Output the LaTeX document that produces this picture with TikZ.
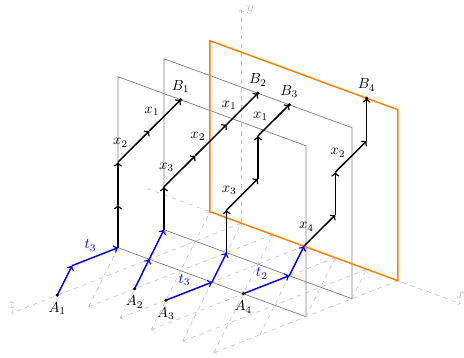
\documentclass[tikz,border=0pt]{standalone}
\begin{document}
\begin{tikzpicture}[
  x={(10.73pt,-3.94pt)}, y={(0pt,29.28pt)}, z={(-31.51pt,-12.33pt)},
  plane/.style={draw=gray, line width=0.5pt},
  oplane/.style={draw=orange, line width=1pt},
  gridline/.style={draw=gray!50, dashed, ->, line width=0.4pt},
  axisline/.style={draw=gray!50, dashed, ->, line width=0.4pt},
  axislab/.style={text=gray!50},
  bstep/.style={->, draw=blue, line width=1pt},
  kstep/.style={->, draw=black, line width=1pt},
  tlab/.style={above, xshift=-3pt, text=blue},
  xlab/.style={left, yshift=2.5pt},
  dot/.style={circle, fill=black, inner sep=0pt, minimum size=2.4pt}
]
\useasboundingbox (-165.29pt,-92.34pt) rectangle (152.55pt,152.89pt);

% planes
\draw[plane] (-2,0,2) -- (-2,4,2) -- (10,4,2) -- (10,0,2) -- cycle;
\draw[plane] (-2,0,1) -- (-2,4,1) -- (10,4,1) -- (10,0,1) -- cycle;

% ground grid
\foreach \i in {2,4,6,8,10} {
  \draw[gridline] (\i,0,0) -- (\i,0,4);
}
\draw[gridline] (10,0,1) -- (8,0,0);
\draw[gridline] (10,0,2) -- (6,0,0);
\draw[gridline] (10,0,3) -- (4,0,0);
\draw[gridline] (10,0,4) -- (2,0,0);
\draw[gridline] (8,0,4) -- (0,0,0);
\draw[gridline] (6,0,4) -- (-2,0,0);
\draw[gridline] (4,0,4) -- (-2,0,1);
\draw[gridline] (2,0,4) -- (-2,0,2);
\draw[gridline] (0,0,4) -- (-2,0,3);

% axes
\coordinate (O) at (0,0,0);
\coordinate (xs) at (-6,0,0);
\coordinate (xe) at (14,0,0);
\coordinate (ye) at (0,5,0);
\coordinate (ze) at (0,0,5);
\draw[axisline] (xs) -- (xe);
\draw[axisline] (O) -- (ye);
\draw[axisline] (O) -- (ze);
\node[axislab, above] (xl) at (xe) {$x$};
\node[axislab, right] (yl) at (ye) {$y$};
\node[axislab, above] (zl) at (ze) {$z$};

% orange plane
\draw[oplane] (-2,0,0) -- (-2,4,0) -- (10,4,0) -- (10,0,0) -- cycle;

% path points
\coordinate (A1) at (0,0,4);  \coordinate (p1a) at (-2,0,3); \coordinate (p1b) at (-2,0,2);
\coordinate (p1c) at (-2,1,2); \coordinate (p1d) at (-2,2,2); \coordinate (p1e) at (0,3,2);
\coordinate (B1) at (2,4,2);
\coordinate (A2) at (2,0,3);  \coordinate (p2a) at (0,0,2); \coordinate (p2b) at (-2,0,1);
\coordinate (p2c) at (-2,1,1); \coordinate (p2d) at (0,2,1); \coordinate (p2e) at (2,3,1);
\coordinate (B2) at (4,4,1);
\coordinate (A3) at (4,0,3);  \coordinate (p3a) at (4,0,2); \coordinate (p3b) at (2,0,1);
\coordinate (p3c) at (2,1,1); \coordinate (p3d) at (4,2,1); \coordinate (p3e) at (4,3,1);
\coordinate (B3) at (6,4,1);
\coordinate (A4) at (6,0,2);  \coordinate (p4a) at (6,0,1); \coordinate (p4b) at (4,0,0);
\coordinate (p4c) at (6,1,0); \coordinate (p4d) at (6,2,0); \coordinate (p4e) at (8,3,0);
\coordinate (B4) at (8,4,0);

% path 1
\draw[bstep] (A1) -- (p1a);
\draw[bstep] (p1a) -- node[tlab] (t1l) {$t_3$} (p1b);
\draw[kstep] (p1b) -- (p1c);
\draw[kstep] (p1c) -- (p1d);
\draw[kstep] (p1d) -- node[xlab] (x1a) {$x_2$} (p1e);
\draw[kstep] (p1e) -- node[xlab] (x1b) {$x_1$} (B1);

% path 2
\draw[bstep] (A2) -- (p2a);
\draw[bstep] (p2a) -- (p2b);
\draw[kstep] (p2b) -- (p2c);
\draw[kstep] (p2c) -- node[xlab] (x2a) {$x_3$} (p2d);
\draw[kstep] (p2d) -- node[xlab] (x2b) {$x_2$} (p2e);
\draw[kstep] (p2e) -- node[xlab] (x2c) {$x_1$} (B2);

% path 3
\draw[bstep] (A3) -- node[tlab] (t3l) {$t_3$} (p3a);
\draw[bstep] (p3a) -- (p3b);
\draw[kstep] (p3b) -- (p3c);
\draw[kstep] (p3c) -- node[xlab] (x3a) {$x_3$} (p3d);
\draw[kstep] (p3d) -- (p3e);
\draw[kstep] (p3e) -- node[xlab] (x3b) {$x_1$} (B3);

% path 4
\draw[bstep] (A4) -- node[tlab] (t4l) {$t_2$} (p4a);
\draw[bstep] (p4a) -- (p4b);
\draw[kstep] (p4b) -- node[xlab] (x4a) {$x_4$} (p4c);
\draw[kstep] (p4c) -- (p4d);
\draw[kstep] (p4d) -- node[xlab] (x4b) {$x_2$} (p4e);
\draw[kstep] (p4e) -- (B4);

% end points
\node[dot, label=below:{$A_1$}] (dA1) at (A1) {};
\node[dot, label=below:{$A_2$}] (dA2) at (A2) {};
\node[dot, label=below:{$A_3$}] (dA3) at (A3) {};
\node[dot, label=below:{$A_4$}] (dA4) at (A4) {};
\node[dot, label=above:{$B_1$}] (dB1) at (B1) {};
\node[dot, label=above:{$B_2$}] (dB2) at (B2) {};
\node[dot, label=above:{$B_3$}] (dB3) at (B3) {};
\node[dot, label=above:{$B_4$}] (dB4) at (B4) {};
\end{tikzpicture}
\end{document}
